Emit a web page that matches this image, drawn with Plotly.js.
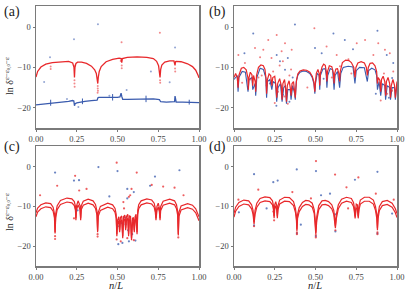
<!DOCTYPE html>
<html><head><meta charset="utf-8">
<script src="https://cdn.plot.ly/plotly-3.0.1.min.js"></script>
<style>html,body{margin:0;padding:0;background:#fff}#chart{width:415px;height:294px}</style>
</head><body><div id="chart"></div>
<script>
// ---------- tick labels ----------
const xTickVals = [0, 0.25, 0.5, 0.75, 1.0];
const xTickText = ['0.00', '0.25', '0.50', '0.75', '1.00'];
const yTickVals = [0, -10, -20];
const panelLabels = ['(a)', '(b)', '(c)', '(d)'];

// ---------- panel (a) ----------
const aRedX = [0, 0.01, 0.03, 0.06, 0.1, 0.15, 0.2, 0.225, 0.233, 0.236, 0.239, 0.245, 0.255, 0.28, 0.31, 0.34, 0.36, 0.37, 0.376, 0.379, 0.382, 0.388, 0.4, 0.43, 0.47, 0.51, 0.522, 0.526, 0.53, 0.56, 0.62, 0.68, 0.72, 0.74, 0.752, 0.758, 0.761, 0.765, 0.772, 0.79, 0.82, 0.846, 0.853, 0.856, 0.86, 0.89, 0.93, 0.96, 0.98, 0.995, 1.0];
const aRedY = [-12.4, -11.0, -9.9, -9.2, -8.8, -8.6, -8.5, -8.9, -10.0, -12.5, -10.0, -9.0, -8.7, -8.7, -9.0, -9.7, -10.6, -11.5, -13.0, -14.0, -12.5, -11.0, -9.8, -8.6, -8.0, -7.7, -7.8, -8.8, -7.8, -7.5, -7.4, -7.5, -7.8, -8.5, -9.6, -11.0, -12.5, -10.5, -9.4, -8.7, -8.4, -8.4, -9.5, -8.6, -8.5, -8.6, -9.1, -9.8, -10.7, -12.0, -12.6];
const aBlueX = [0, 0.05, 0.09, 0.15, 0.2, 0.225, 0.232, 0.236, 0.24, 0.25, 0.27, 0.3, 0.34, 0.375, 0.38, 0.385, 0.42, 0.47, 0.5, 0.515, 0.522, 0.527, 0.532, 0.56, 0.62, 0.68, 0.72, 0.757, 0.765, 0.8, 0.85, 0.853, 0.856, 0.86, 0.9, 0.95, 1.0];
const aBlueY = [-19.3, -19.1, -18.9, -18.7, -18.4, -18.2, -18.3, -19.5, -19.0, -18.8, -18.6, -18.4, -18.2, -18.1, -17.5, -17.4, -17.4, -17.5, -17.4, -17.3, -16.4, -17.3, -17.9, -17.9, -17.8, -17.7, -17.8, -18.0, -18.5, -18.6, -18.5, -17.1, -18.5, -18.6, -18.6, -18.7, -18.7];
const aSpikeX = [0.09, 0.285, 0.47, 0.675, 0.94];
const aSpikeTop = [-18.0, -17.7, -16.6, -17.0, -18.0];
const aSpikeBot = [-19.5, -19.1, -18.2, -18.6, -19.2];
const aRedDotX = [0.236, 0.236, 0.237, 0.379, 0.379, 0.38, 0.378, 0.761, 0.762, 0.526, 0.526, 0.853, 0.854, 0.76, 0.525, 0.09, 0.09, 0.24, 0.52];
const aRedDotY = [-13.2, -14.0, -14.8, -14.6, -15.2, -15.8, -16.3, -13.2, -13.8, -9.5, -10.2, -10.3, -11.0, -1.4, -3.8, -9.8, -10.4, -9.5, -8.4];
const aBlueDotX = [0.38, 0.233, 0.853, 0.086, 0.05, 0.705, 0.82, 0.556, 0.19, 0.26, 0.45];
const aBlueDotY = [0.7, -3.0, -5.1, -7.5, -13.6, -11.0, -13.7, -15.6, -17.8, -19.8, -17.0];

// ---------- panel (b) ----------
const bRedX = [0.000, 0.010, 0.020, 0.025, 0.030, 0.045, 0.060, 0.075, 0.085, 0.088, 0.092, 0.100, 0.110, 0.115, 0.120, 0.130, 0.133, 0.138, 0.150, 0.165, 0.180, 0.190, 0.197, 0.200, 0.205, 0.215, 0.225, 0.232, 0.238, 0.250, 0.258, 0.262, 0.268, 0.280, 0.290, 0.295, 0.300, 0.310, 0.318, 0.322, 0.327, 0.338, 0.345, 0.350, 0.356, 0.365, 0.372, 0.376, 0.380, 0.384, 0.392, 0.405, 0.425, 0.445, 0.465, 0.480, 0.490, 0.496, 0.500, 0.505, 0.515, 0.522, 0.526, 0.530, 0.540, 0.550, 0.560, 0.566, 0.570, 0.574, 0.585, 0.600, 0.610, 0.614, 0.618, 0.625, 0.635, 0.643, 0.648, 0.652, 0.665, 0.685, 0.705, 0.720, 0.735, 0.742, 0.748, 0.760, 0.780, 0.800, 0.812, 0.818, 0.824, 0.835, 0.850, 0.865, 0.875, 0.880, 0.885, 0.895, 0.900, 0.905, 0.915, 0.925, 0.930, 0.935, 0.945, 0.955, 0.960, 0.965, 0.975, 0.985, 0.990, 0.995, 1.000];
const bRedY = [-12.5, -11.5, -12.5, -15.0, -12.0, -10.2, -10.0, -10.6, -12.5, -15.5, -12.5, -11.2, -11.8, -14.5, -12.0, -13.5, -16.0, -12.0, -10.0, -9.4, -9.6, -10.5, -13.0, -16.5, -13.0, -11.6, -12.0, -14.5, -12.5, -12.2, -15.0, -17.5, -14.0, -12.8, -14.5, -18.0, -14.0, -13.0, -15.5, -18.5, -14.5, -13.3, -15.0, -17.0, -14.0, -13.5, -16.0, -17.5, -15.0, -13.0, -11.6, -10.9, -10.6, -10.7, -11.2, -12.2, -13.6, -16.0, -13.5, -11.5, -10.5, -11.5, -14.5, -11.5, -9.9, -9.2, -9.5, -11.0, -13.5, -11.0, -9.6, -9.8, -11.5, -14.0, -11.5, -10.4, -10.3, -11.5, -13.5, -11.0, -8.8, -8.2, -8.3, -8.8, -10.0, -12.5, -10.0, -8.9, -8.6, -8.9, -10.0, -12.0, -10.0, -9.0, -8.9, -9.6, -11.0, -14.0, -12.5, -13.2, -16.0, -13.0, -12.2, -13.5, -17.0, -13.5, -12.5, -14.0, -17.5, -14.5, -13.0, -14.5, -17.5, -14.0, -13.5];
const bBlueX = [0.000, 0.020, 0.025, 0.030, 0.050, 0.070, 0.086, 0.092, 0.110, 0.115, 0.130, 0.133, 0.140, 0.160, 0.180, 0.195, 0.200, 0.205, 0.220, 0.232, 0.240, 0.255, 0.262, 0.270, 0.285, 0.295, 0.305, 0.315, 0.322, 0.330, 0.345, 0.350, 0.360, 0.372, 0.376, 0.382, 0.392, 0.405, 0.425, 0.445, 0.465, 0.480, 0.490, 0.496, 0.500, 0.510, 0.522, 0.526, 0.530, 0.545, 0.560, 0.566, 0.570, 0.575, 0.590, 0.605, 0.614, 0.620, 0.635, 0.648, 0.655, 0.670, 0.700, 0.730, 0.742, 0.750, 0.770, 0.800, 0.818, 0.826, 0.845, 0.865, 0.875, 0.880, 0.890, 0.900, 0.910, 0.925, 0.930, 0.940, 0.955, 0.960, 0.970, 0.985, 0.990, 1.000];
const bBlueY = [-13.0, -12.0, -16.0, -12.5, -11.0, -11.2, -16.0, -13.0, -12.5, -15.5, -14.0, -17.0, -12.5, -10.2, -10.5, -12.5, -17.5, -13.5, -13.0, -15.5, -13.5, -14.0, -18.5, -15.0, -14.0, -18.5, -15.0, -14.5, -19.0, -15.5, -15.5, -18.0, -14.5, -16.5, -18.0, -13.5, -11.9, -11.2, -10.9, -11.0, -11.5, -12.5, -14.0, -16.5, -14.0, -11.5, -12.0, -15.5, -12.0, -10.4, -10.3, -12.0, -15.0, -12.0, -10.3, -10.6, -15.5, -12.0, -11.0, -15.0, -11.5, -10.0, -9.7, -9.9, -14.0, -10.8, -10.0, -10.1, -13.5, -10.8, -10.2, -10.6, -12.0, -15.5, -13.5, -17.0, -14.0, -14.5, -18.0, -14.5, -15.0, -18.0, -15.0, -15.0, -18.0, -14.0];
const bRedDotX = [0.493, 0.262, 0.313, 0.21, 0.129, 0.18, 0.027, 0.753, 0.885, 0.926, 0.568, 0.63, 0.702, 0.855, 0.956, 0.23, 0.354, 0.292, 0.067, 0.977, 0.804, 0.65, 0.15, 0.24, 0.27, 0.31, 0.34, 0.36, 0.28, 0.33, 0.2, 0.9, 0.94, 0.97, 0.92, 0.05, 0.1, 0.17, 0.35, 0.25, 0.45, 0.6, 0.72, 0.16, 0.3];
const bRedDotY = [-0.3, -2.0, -4.0, -3.2, -5.2, -5.6, -6.9, -4.0, -4.0, -5.6, -4.8, -6.9, -8.0, -6.9, -6.5, -7.7, -5.6, -6.0, -8.9, -11.0, -3.2, -9.7, -12.5, -11.0, -16.0, -17.2, -12.0, -15.5, -9.5, -19.0, -14.5, -18.2, -16.5, -15.8, -11.5, -13.8, -13.0, -12.0, -10.5, -18.8, -15.0, -12.5, -11.5, -7.5, -8.5];
const bBlueDotX = [0.118, 0.374, 0.538, 0.61, 0.88, 0.73, 0.064, 0.262, 0.282, 0.313, 0.33, 0.937, 0.977, 0.497, 0.68, 0.97, 0.26, 0.3, 0.34, 0.22, 0.19, 0.36, 0.55, 0.87, 0.95];
const bBlueDotY = [-1.6, 0.65, -6.5, -1.6, -0.9, -5.5, -6.5, -6.9, -8.5, -10.6, -7.7, -6.9, -8.9, -5.2, -3.2, -12.6, -19.5, -16.8, -18.5, -14.0, -11.5, -12.5, -12.8, -16.5, -17.5];

// ---------- panel (c) ----------
const cX = [0, 0.01, 0.03, 0.06, 0.09, 0.105, 0.113, 0.117, 0.121, 0.13,
  0.15, 0.19, 0.22, 0.235, 0.242, 0.245, 0.248, 0.258, 0.27, 0.274,
  0.278, 0.29, 0.32, 0.35, 0.365, 0.374, 0.378, 0.382, 0.395, 0.44,
  0.47, 0.485, 0.492, 0.496, 0.5, 0.508, 0.513, 0.518, 0.526, 0.532,
  0.537, 0.545, 0.55, 0.555, 0.563, 0.568, 0.573, 0.58, 0.586, 0.592,
  0.598, 0.603, 0.608, 0.614, 0.62, 0.624, 0.63, 0.645, 0.68, 0.71,
  0.725, 0.732, 0.736, 0.742, 0.75, 0.757, 0.761, 0.765, 0.78, 0.82,
  0.85, 0.862, 0.869, 0.873, 0.877, 0.89, 0.93, 0.96, 0.98, 0.993,
  1.0];
const cUpperY = [-11.6, -10.4, -9.6, -9.1, -9.3, -10.2, -11.8, -16.5, -11.8, -9.8,
  -8.5, -7.9, -8.1, -8.8, -10.0, -13.0, -10.0, -8.6, -9.8, -13.0,
  -9.8, -8.7, -8.2, -8.6, -9.5, -11.2, -16.2, -11.5, -10.0, -9.2,
  -9.6, -10.5, -12.0, -17.0, -13.5, -12.6, -16.0, -12.8, -12.4, -17.5,
  -12.6, -12.2, -15.5, -12.5, -12.0, -17.0, -12.4, -12.5, -18.0, -13.0,
  -12.8, -16.0, -12.6, -12.0, -16.5, -11.0, -9.6, -8.6, -8.1, -8.4,
  -9.2, -10.5, -13.0, -10.0, -9.2, -10.4, -13.0, -10.0, -8.7, -8.2,
  -8.6, -9.6, -11.2, -17.0, -11.5, -9.9, -9.3, -9.7, -10.6, -11.8,
  -12.6];
const cLowerY = [-12.6, -11.4, -10.6, -10.1, -10.3, -11.2, -12.8, -16.8, -12.8, -10.8,
  -9.5, -8.9, -9.1, -9.8, -11.0, -13.5, -11.0, -9.6, -10.8, -13.5,
  -10.8, -9.7, -9.2, -9.6, -10.5, -12.2, -16.5, -12.5, -11.0, -10.2,
  -10.6, -11.5, -13.0, -17.5, -14.5, -13.6, -16.5, -13.8, -13.4, -18.0,
  -13.6, -13.2, -16.0, -13.5, -13.0, -17.5, -13.4, -13.5, -18.5, -14.0,
  -13.8, -16.5, -13.6, -13.0, -17.0, -12.0, -10.6, -9.6, -9.1, -9.4,
  -10.2, -11.5, -13.5, -11.0, -10.2, -11.4, -13.5, -11.0, -9.7, -9.2,
  -9.6, -10.6, -12.2, -17.3, -12.5, -10.9, -10.3, -10.7, -11.6, -12.8,
  -13.6];
const cRedDotX = [0.495, 0.618, 0.24, 0.13, 0.265, 0.78, 0.71, 0.85, 0.31, 0.586, 0.536, 0.025, 0.905, 0.578, 0.233, 0.57, 0.117, 0.117, 0.378, 0.378, 0.873, 0.495, 0.52, 0.56, 0.6, 0.54];
const cRedDotY = [1.0, -1.5, -2.3, -4.8, -6.0, -5.0, -4.6, -5.3, -5.6, -5.6, -8.9, -7.2, -7.2, -7.2, -13.0, -7.6, -17.5, -18.2, -17.0, -17.6, -17.8, -18.3, -18.8, -18.0, -18.5, -10.5];
const cBlueDotX = [0.117, 0.383, 0.5, 0.73, 0.88, 0.233, 0.264, 0.56, 0.56, 0.6, 0.7, 0.51, 0.53, 0.55, 0.57, 0.59, 0.61, 0.505, 0.545, 0.6, 0.525, 0.565, 0.255, 0.45];
const cBlueDotY = [-1.5, -0.1, -1.1, -2.5, -0.9, -3.5, -3.4, -5.6, -8.0, -6.4, -4.8, -15.0, -19.2, -14.5, -18.8, -17.0, -18.6, -19.5, -12.8, -13.6, -14.2, -16.0, -11.0, -7.5];

// ---------- panel (d) ----------
const dX = [0, 0.01, 0.03, 0.06, 0.09, 0.108, 0.117, 0.123, 0.129, 0.14,
  0.16, 0.19, 0.22, 0.236, 0.242, 0.246, 0.25, 0.256, 0.262, 0.266,
  0.27, 0.28, 0.31, 0.34, 0.365, 0.377, 0.383, 0.386, 0.39, 0.4,
  0.42, 0.44, 0.46, 0.48, 0.492, 0.498, 0.502, 0.508, 0.52, 0.54,
  0.56, 0.58, 0.6, 0.612, 0.618, 0.622, 0.628, 0.64, 0.66, 0.69,
  0.72, 0.733, 0.739, 0.743, 0.75, 0.757, 0.762, 0.767, 0.775, 0.8,
  0.83, 0.855, 0.868, 0.876, 0.88, 0.884, 0.892, 0.91, 0.94, 0.97,
  0.99, 1.0];
const dUpperY = [-11.7, -10.2, -9.0, -8.4, -8.6, -9.6, -11.0, -14.0, -11.0, -9.2,
  -8.0, -7.6, -7.8, -8.6, -9.8, -12.5, -9.6, -8.8, -9.8, -12.5,
  -9.8, -8.4, -7.7, -7.8, -8.8, -10.5, -12.5, -15.8, -12.0, -10.3,
  -9.0, -8.5, -8.6, -9.2, -10.8, -13.0, -16.6, -12.5, -9.8, -8.6,
  -8.5, -8.8, -9.6, -11.0, -13.0, -15.0, -12.0, -9.6, -8.2, -7.7,
  -8.0, -9.0, -10.5, -12.5, -9.4, -9.6, -12.5, -9.8, -8.4, -7.7,
  -7.7, -8.4, -10.0, -12.0, -15.5, -12.0, -10.0, -8.8, -8.5, -9.2,
  -10.6, -11.8];
const dLowerY = [-12.7, -11.2, -10.0, -9.4, -9.6, -10.6, -12.0, -14.5, -12.0, -10.2,
  -9.0, -8.6, -8.8, -9.6, -10.8, -13.0, -10.6, -9.8, -10.8, -13.0,
  -10.8, -9.4, -8.7, -8.8, -9.8, -11.5, -13.5, -16.2, -13.0, -11.3,
  -10.0, -9.5, -9.6, -10.2, -11.8, -14.0, -17.0, -13.5, -10.8, -9.6,
  -9.5, -9.8, -10.6, -12.0, -14.0, -15.5, -13.0, -10.6, -9.2, -8.7,
  -9.0, -10.0, -11.5, -13.0, -10.4, -10.6, -13.0, -10.8, -9.4, -8.7,
  -8.7, -9.4, -11.0, -13.0, -16.0, -13.0, -11.0, -9.8, -9.5, -10.2,
  -11.6, -12.8];
const dRedDotX = [0.503, 0.62, 0.763, 0.69, 0.149, 0.358, 0.472, 0.87, 0.98, 0.027, 0.241, 0.70, 0.123, 0.386, 0.386, 0.502, 0.502, 0.622, 0.88, 0.88, 0.246];
const dRedDotY = [1.4, -2.0, -2.7, -5.2, -5.8, -6.4, -8.0, -6.8, -8.3, -8.3, -11.3, -10.5, -15.0, -16.5, -17.0, -17.2, -17.8, -16.0, -16.5, -17.0, -13.5];
const dBlueDotX = [0.123, 0.385, 0.503, 0.742, 0.88, 0.241, 0.268, 0.534, 0.589, 0.41, 0.123, 0.386, 0.502, 0.622, 0.88, 0.03, 0.97, 0.2, 0.62];
const dBlueDotY = [-1.9, -0.7, -1.1, -3.3, -1.3, -3.9, -3.5, -7.2, -6.8, -14.6, -14.8, -16.8, -17.5, -16.3, -16.8, -11.5, -11.8, -10.5, -12.0];

// ---------- build ----------
const RED = '#e8282b', BLUE = '#3a5bae';
const RED_DOT = 'rgba(232,40,43,0.75)', BLUE_DOT = 'rgba(58,91,174,0.75)';
function line(x, y, color, xa, ya, w) {
  return {x: x, y: y, type: 'scatter', mode: 'lines', line: {color: color, width: w || 1.3}, xaxis: xa, yaxis: ya, hoverinfo: 'skip', showlegend: false};
}
function dots(x, y, color, xa, ya, s) {
  return {x: x, y: y, type: 'scatter', mode: 'markers', marker: {color: color, size: s || 2.5}, xaxis: xa, yaxis: ya, hoverinfo: 'skip', showlegend: false};
}
function spikes(xs, tops, bots) {
  const x = [], y = [];
  xs.forEach((v, i) => { x.push(v, v, null); y.push(tops[i], bots[i], null); });
  return {x: x, y: y};
}
const sp = spikes(aSpikeX, aSpikeTop, aSpikeBot);

const traces = [
  // (a)
  line(aBlueX, aBlueY, BLUE, 'x', 'y', 1.3),
  line(sp.x, sp.y, BLUE, 'x', 'y', 1.0),
  line(aRedX, aRedY, RED, 'x', 'y', 1.3),
  dots(aRedDotX, aRedDotY, 'rgba(232,40,43,0.55)', 'x', 'y', 2),
  dots(aBlueDotX, aBlueDotY, 'rgba(58,91,174,0.55)', 'x', 'y', 2),
  // (b)
  line(bBlueX, bBlueY, BLUE, 'x2', 'y2', 1.1),
  dots(bBlueDotX, bBlueDotY, BLUE_DOT, 'x2', 'y2', 2),
  line(bRedX, bRedY, RED, 'x2', 'y2', 1.2),
  dots(bRedDotX, bRedDotY, 'rgba(232,40,43,0.6)', 'x2', 'y2', 2),
  // (c)
  dots(cBlueDotX, cBlueDotY, BLUE_DOT, 'x3', 'y3', 2.2),
  line(cX, cLowerY, RED, 'x3', 'y3', 1.2),
  line(cX, cUpperY, RED, 'x3', 'y3', 1.2),
  dots(cRedDotX, cRedDotY, RED_DOT, 'x3', 'y3', 2.2),
  // (d)
  dots(dBlueDotX, dBlueDotY, BLUE_DOT, 'x4', 'y4', 2.2),
  line(dX, dLowerY, RED, 'x4', 'y4', 1.2),
  line(dX, dUpperY, RED, 'x4', 'y4', 1.2),
  dots(dRedDotX, dRedDotY, RED_DOT, 'x4', 'y4', 2.2)
];

const W = 415, H = 294;
const fx = px => px / W, fy = py => 1 - py / H;
const AXC = '#7a7a7a';
const serif = 'Liberation Serif, DejaVu Serif, serif';
const tickFont = {family: serif, size: 8.5, color: '#444'};
function xAxis(x0, x1, anchor) {
  return {domain: [fx(x0), fx(x1)], anchor: anchor, range: [0, 1], tickvals: xTickVals, ticktext: xTickText,
    showline: true, mirror: true, linecolor: AXC, linewidth: 1.5, ticks: 'outside', ticklen: 2, tickcolor: AXC,
    tickfont: tickFont, showgrid: false, zeroline: false, fixedrange: true};
}
function yAxis(top, bot, anchor) {
  return {domain: [fy(bot), fy(top)], anchor: anchor, range: [-25, 5.2], tickvals: yTickVals,
    showline: true, mirror: true, linecolor: AXC, linewidth: 1.5, ticks: 'outside', ticklen: 2, tickcolor: AXC,
    tickfont: tickFont, showgrid: false, zeroline: false, fixedrange: true};
}
function ann(text, px, py, size, angle) {
  return {text: text, x: fx(px), y: fy(py), xref: 'paper', yref: 'paper', xanchor: 'center', yanchor: 'middle',
    showarrow: false, textangle: angle || 0, font: {family: serif, size: size, color: '#222'}};
}
const ytitle = 'ln δ<sup>ε−ε<sub>0,0</sub>−ε</sup>';
const layout = {
  width: W, height: H, autosize: false,
  margin: {l: 0, r: 0, t: 0, b: 0},
  paper_bgcolor: '#fff', plot_bgcolor: '#fff',
  showlegend: false,
  xaxis: xAxis(36, 199, 'y'), yaxis: yAxis(6, 128, 'x'),
  xaxis2: xAxis(234, 397, 'y2'), yaxis2: yAxis(6, 128, 'x2'),
  xaxis3: xAxis(36, 199, 'y3'), yaxis3: yAxis(146, 266, 'x3'),
  xaxis4: xAxis(234, 397, 'y4'), yaxis4: yAxis(146, 266, 'x4'),
  annotations: [
    ann(panelLabels[0], 12, 12.5, 14),
    ann(panelLabels[1], 217, 12.5, 14),
    ann(panelLabels[2], 12, 147, 14),
    ann(panelLabels[3], 217, 147, 14),
    ann(ytitle, 9, 76, 10, -90),
    ann(ytitle, 9, 212, 10, -90),
    ann('<i>n</i>/<i>L</i>', 116, 285, 10.5),
    ann('<i>n</i>/<i>L</i>', 315, 285, 10.5)
  ]
};
Plotly.newPlot('chart', traces, layout, {displayModeBar: false, staticPlot: true});
</script>
</body></html>
